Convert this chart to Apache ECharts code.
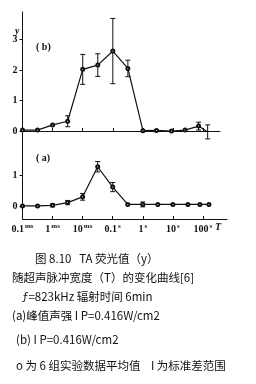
<!DOCTYPE html>
<html>
<head>
<meta charset="utf-8">
<script src="https://cdn.jsdelivr.net/npm/echarts@6/dist/echarts.min.js"></script>
<style>
  html, body { margin: 0; padding: 0; background: #fff; }
  #chart { width: 256px; height: 384px; }
</style>
</head>
<body>
<div id="chart"></div>
<script>
// x is log10(T / 1 s)
const xTickValues = [-4, -3, -2, -1, 0, 1, 2];
const xTickNums = ['0.1', '1', '10', '0.1', '1', '10', '100'];
const xTickUnits = ['ms', 'ms', 'ms', 's', 's', 's', 's'];
const yTicksB = [0, 1, 2, 3];
const yTicksA = [0, 1];

// panel (b)
const xB = [-4, -3.5, -3, -2.5, -2, -1.5, -1, -0.5, 0, 0.45, 0.95, 1.4, 1.85, 2.15];
const yB = [0.03, 0.03, 0.2, 0.32, 2.02, 2.16, 2.62, 2.05, 0.01, 0.02, 0.0, 0.03, 0.16, -0.03];
const errB = [0, 0, 0, 0.18, 0.49, 0.37, 1.07, 0.27, 0, 0, 0, 0, 0.13, 0.23];

// panel (a)
const xA = [-4, -3.5, -3, -2.5, -2, -1.5, -1, -0.5, 0, 0.5, 1, 1.5, 1.9, 2.2];
const yA = [0, 0, 0.02, 0.11, 0.3, 1.29, 0.62, 0.05, 0.05, 0.05, 0.05, 0.05, 0.05, 0.05];
const errA = [0, 0, 0.05, 0.07, 0.11, 0.17, 0.15, 0, 0.08, 0, 0, 0, 0, 0];

const ink = '#111';
const serif = 'Liberation Serif';
const cjk = 'Noto Sans CJK SC';

function pairs (xs, ys, es) {
    return xs.map(function (x, i) { return es ? [x, ys[i], es[i]] : [x, ys[i]]; });
}

function errorBars (params, api) {
    const x = api.value(0);
    const y = api.value(1);
    const e = api.value(2);
    if (!(e > 0)) {
        return null;
    }
    const top = api.coord([x, y + e]);
    const bot = api.coord([x, y - e]);
    const style = { stroke: ink, lineWidth: 1 };
    return {
        type: 'group',
        children: [
            { type: 'line', shape: { x1: top[0], y1: top[1], x2: bot[0], y2: bot[1] }, style: style },
            { type: 'line', shape: { x1: top[0] - 2.5, y1: top[1], x2: top[0] + 2.5, y2: top[1] }, style: style },
            { type: 'line', shape: { x1: bot[0] - 2.5, y1: bot[1], x2: bot[0] + 2.5, y2: bot[1] }, style: style }
        ]
    };
}

function xAxis (gridIndex, max, showLabels) {
    return {
        type: 'value',
        gridIndex: gridIndex,
        min: -4,
        max: max,
        splitLine: { show: false },
        axisLine: { onZero: false, lineStyle: { color: ink, width: 1 } },
        axisTick: { inside: true, length: 3, customValues: xTickValues, lineStyle: { color: ink } },
        axisLabel: {
            show: showLabels,
            customValues: xTickValues,
            margin: 4,
            formatter: function (v) {
                const i = xTickValues.indexOf(Math.round(v));
                return '{n|' + xTickNums[i] + '}{u|' + xTickUnits[i] + '}';
            },
            rich: {
                n: { fontFamily: serif, fontSize: 10, color: ink, fontWeight: 'bold' },
                u: { fontFamily: serif, fontSize: 7, color: ink, padding: [0, 0, 5, 1], fontWeight: 'bold' }
            }
        }
    };
}

function yAxis (gridIndex, min, max, ticks) {
    return {
        type: 'value',
        gridIndex: gridIndex,
        min: min,
        max: max,
        splitLine: { show: false },
        axisLine: { show: true, onZero: false, lineStyle: { color: ink, width: 1 } },
        axisTick: { show: true, length: 3, customValues: ticks, lineStyle: { color: ink } },
        axisLabel: {
            customValues: ticks,
            margin: 5,
            fontFamily: serif,
            fontSize: 10,
            fontWeight: 'bold',
            color: ink
        }
    };
}

const lineStyle = { color: ink, width: 1.2 };

const captionStyle = { fontFamily: cjk, fontSize: 11.5, fill: '#111', verticalAlign: 'middle' };
function caption (x, y, text) {
    return { type: 'text', x: x, y: y, style: Object.assign({ text: text }, captionStyle) };
}

const chart = echarts.init(document.getElementById('chart'), null, { renderer: 'canvas' });
chart.setOption({
    animation: false,
    backgroundColor: '#fff',
    grid: [
        { left: 22.5, top: 12, width: 197.5, height: 119 },
        { left: 22.5, top: 133, width: 204.5, height: 86 }
    ],
    xAxis: [xAxis(0, 2.56, false), xAxis(1, 2.8, true)],
    yAxis: [yAxis(0, 0, 3.9, yTicksB), yAxis(1, -0.43, 2.4, yTicksA)],
    series: [
        {
            type: 'line', xAxisIndex: 0, yAxisIndex: 0,
            data: pairs(xB, yB),
            symbol: 'emptyCircle', symbolSize: 3,
            lineStyle: lineStyle,
            itemStyle: { color: ink, borderColor: ink, borderWidth: 1 }
        },
        {
            type: 'custom', xAxisIndex: 0, yAxisIndex: 0,
            data: pairs(xB, yB, errB),
            renderItem: errorBars
        },
        {
            type: 'line', xAxisIndex: 1, yAxisIndex: 1,
            data: pairs(xA, yA),
            symbol: 'emptyCircle', symbolSize: 3,
            lineStyle: lineStyle,
            itemStyle: { color: ink, borderColor: ink, borderWidth: 1 }
        },
        {
            type: 'custom', xAxisIndex: 1, yAxisIndex: 1,
            data: pairs(xA, yA, errA),
            renderItem: errorBars
        }
    ],
    graphic: [
        { type: 'text', left: 15, top: 26, style: { text: 'y', fontFamily: serif, fontStyle: 'italic', fontWeight: 'bold', fontSize: 10, fill: ink } },
        { type: 'text', left: 36, top: 42, style: { text: '( b)', fontFamily: serif, fontWeight: 'bold', fontSize: 10, fill: ink } },
        { type: 'text', left: 36, top: 153, style: { text: '( a)', fontFamily: serif, fontWeight: 'bold', fontSize: 10, fill: ink } },
        { type: 'text', left: 215, top: 222, style: { text: 'T', fontFamily: serif, fontStyle: 'italic', fontWeight: 'bold', fontSize: 10, fill: ink } },
        caption(35, 259, '图 8.10   TA 荧光值（y）'),
        caption(12, 278, '随超声脉冲宽度（T）的变化曲线[6]'),
        caption(22, 297, 'ƒ=823kHz 辐射时间 6min'),
        caption(12, 316, '(a)峰值声强 I P=0.416W/cm2'),
        caption(16, 340, '(b) I P=0.416W/cm2'),
        caption(16, 366, 'o 为 6 组实验数据平均值    I 为标准差范围')
    ]
});
window.onresize = function () {
    chart.resize();
};
</script>
</body>
</html>
